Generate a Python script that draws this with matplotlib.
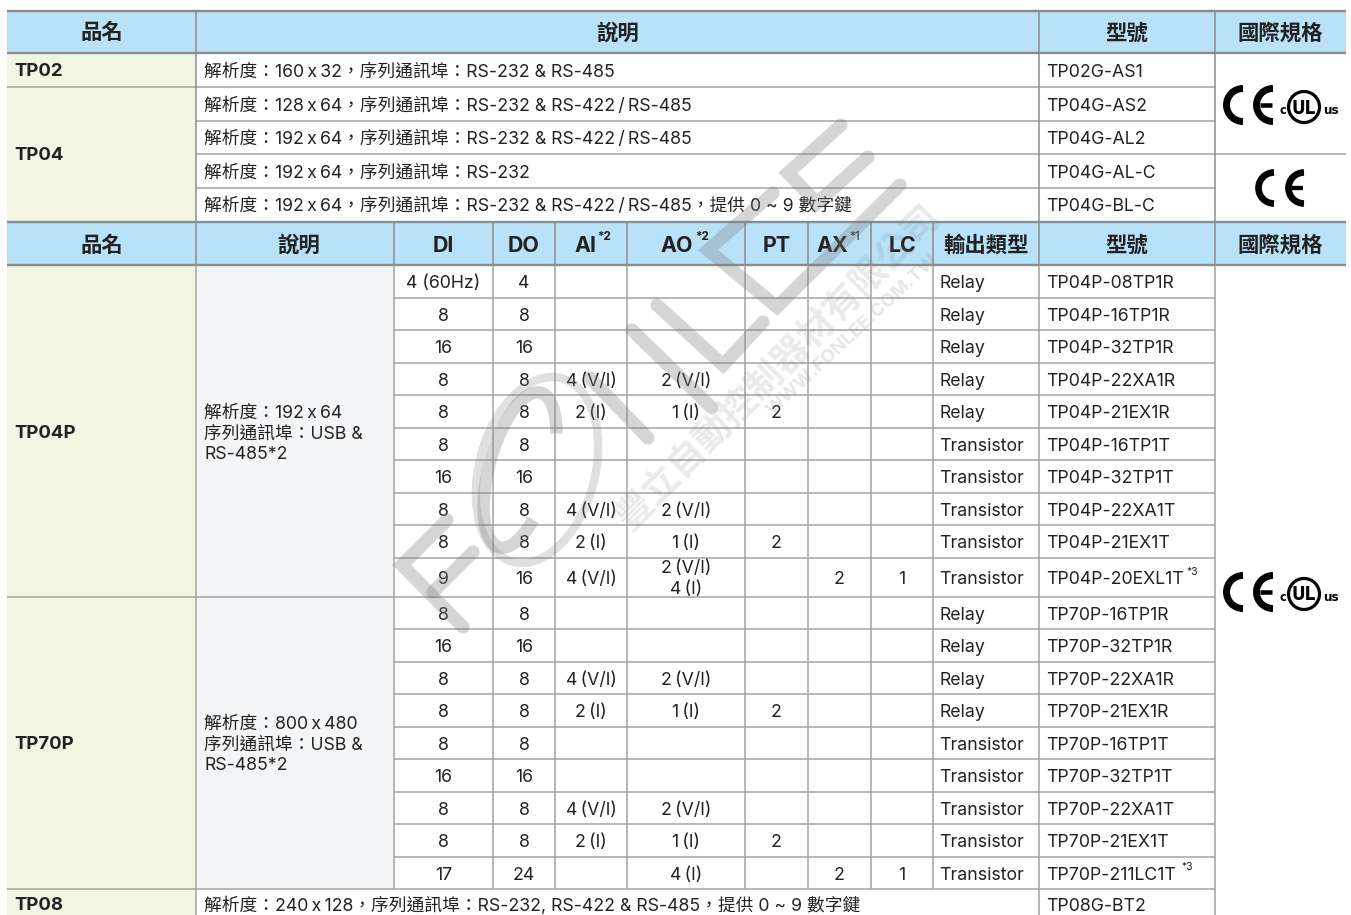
import matplotlib
matplotlib.use('Agg')
import matplotlib.pyplot as plt
from matplotlib.patches import Rectangle, Arc, Circle, Ellipse

plt.rcParams['font.family'] = ['Inter', 'Noto Sans CJK TC', 'DejaVu Sans']

# ---------- data ----------
header_top = ['品名', '說明', '型號', '國際規格']
header_sub = ['品名', '說明', 'DI', 'DO', 'AI', 'AO', 'PT', 'AX', 'LC', '輸出類型', '型號', '國際規格']
top_desc = ['解析度：160\u2009x\u200932，序列通訊埠：RS-232 & RS-485',
            '解析度：128\u2009x\u200964，序列通訊埠：RS-232 & RS-422\u2009/\u2009RS-485',
            '解析度：192\u2009x\u200964，序列通訊埠：RS-232 & RS-422\u2009/\u2009RS-485',
            '解析度：192\u2009x\u200964，序列通訊埠：RS-232',
            '解析度：192\u2009x\u200964，序列通訊埠：RS-232 & RS-422\u2009/\u2009RS-485，提供 0 ~ 9 數字鍵']
top_models = ['TP02G-AS1', 'TP04G-AS2', 'TP04G-AL2', 'TP04G-AL-C', 'TP04G-BL-C']
di = ['4 (60Hz)', '8', '16', '8', '8', '8', '16', '8', '8', '9',
      '8', '16', '8', '8', '8', '16', '8', '8', '17']
do = ['4', '8', '16', '8', '8', '8', '16', '8', '8', '16',
      '8', '16', '8', '8', '8', '16', '8', '8', '24']
VI4, I2, VI2, I1, I4 = '4\u2009(V/I)', '2\u2009(I)', '2\u2009(V/I)', '1\u2009(I)', '4\u2009(I)'
ai = ['', '', '', VI4, I2, '', '', VI4, I2, VI4,
      '', '', VI4, I2, '', '', VI4, I2, '']
ao = ['', '', '', VI2, I1, '', '', VI2, I1, (VI2, I4),
      '', '', VI2, I1, '', '', VI2, I1, I4]
pt = ['', '', '', '', '2', '', '', '', '2', '',
      '', '', '', '2', '', '', '', '2', '']
ax_io = ['', '', '', '', '', '', '', '', '', '2',
         '', '', '', '', '', '', '', '', '2']
lc = ['', '', '', '', '', '', '', '', '', '1',
      '', '', '', '', '', '', '', '', '1']
output = ['Relay'] * 5 + ['Transistor'] * 5 + ['Relay'] * 4 + ['Transistor'] * 5
models = ['TP04P-08TP1R', 'TP04P-16TP1R', 'TP04P-32TP1R', 'TP04P-22XA1R', 'TP04P-21EX1R',
          'TP04P-16TP1T', 'TP04P-32TP1T', 'TP04P-22XA1T', 'TP04P-21EX1T', 'TP04P-20EXL1T',
          'TP70P-16TP1R', 'TP70P-32TP1R', 'TP70P-22XA1R', 'TP70P-21EX1R',
          'TP70P-16TP1T', 'TP70P-32TP1T', 'TP70P-22XA1T', 'TP70P-21EX1T', 'TP70P-211LC1T']
desc_tp04p = ['解析度：192\u2009x\u200964', '序列通訊埠：USB &', 'RS-485*2']
desc_tp70p = ['解析度：800\u2009x\u2009480', '序列通訊埠：USB &', 'RS-485*2']
last_desc = '解析度：240\u2009x\u2009128，序列通訊埠：RS-232, RS-422 & RS-485，提供 0 ~ 9 數字鍵'
last_model = 'TP08G-BT2'

# ---------- layout (pixels) ----------
X = [7, 196, 394, 493, 555, 627, 745, 808, 871, 933, 1039, 1215, 1346]
Y_TOP = [53, 87, 121, 154, 188, 221]
Y_ROW = [265, 298, 330, 363, 395, 428, 460, 493, 525, 558, 597,
         629, 662, 694, 727, 759, 792, 824, 857, 889]
HDR, PROD, DESC = '#B9E1F8', '#F1F5E2', '#F4F5F7'
LINE, DARK, INK = '#A3A3A3', '#8C8C8C', '#222222'
FS, FSH, FSP = 12.75, 15.4, 13.4

fig = plt.figure(figsize=(13.51, 9.15), dpi=100, facecolor='white')
ax = fig.add_axes([0, 0, 1, 1])
ax.set_xlim(0, 1351)
ax.set_ylim(915, 0)
ax.axis('off')


def box(x0, y0, x1, y1, c):
    ax.add_patch(Rectangle((x0, y0), x1 - x0, y1 - y0, fc=c, ec='none', zorder=1))


def hl(x0, x1, y, c=LINE, lw=1.1):
    ax.plot([x0, x1], [y, y], color=c, lw=lw, solid_capstyle='butt', zorder=2)


def vl(x, y0, y1, c=LINE, lw=1.1):
    ax.plot([x, x], [y0, y1], color=c, lw=lw, solid_capstyle='butt', zorder=2)


def txt(x, y, s, size=FS, ha='left', weight='normal', color=INK, **kw):
    # y is the visual centre of the line; text is placed on its baseline
    extra = 1 if (weight == 'normal' and size == FS) else 0
    ax.text(x, y + size * 0.465 + extra, s, fontsize=size, ha=ha, va='baseline', weight=weight,
            color=color, zorder=3, **kw)


# fills
box(X[0], 11, X[12], 53, HDR)
box(X[0], 222, X[12], 265, HDR)
box(X[0], 53, X[1], 221, PROD)
box(X[0], 265, X[1], 915, PROD)
box(X[1], 265, X[2], 889, DESC)

# header 1
hx = [(X[0] + X[1]) / 2, (X[1] + X[10]) / 2, (X[10] + X[11]) / 2, (X[11] + X[12]) / 2]
for x, s in zip(hx, header_top):
    txt(x, 32, s, size=FSH, ha='center', weight='bold')

# header 2
for i, s in enumerate(header_sub):
    cx = (X[i] + X[i + 1]) / 2
    if i == 1:
        cx = 299
    if s == 'AI':
        txt(596, 244.5, s, size=FSH, ha='right', weight='bold')
        txt(597, 236, '*2', size=8.5, weight='bold')
    elif s == 'AO':
        txt(693, 244.5, s, size=FSH, ha='right', weight='bold')
        txt(695, 236, '*2', size=8.5, weight='bold')
    elif s == 'AX':
        txt(848, 244.5, s, size=FSH, ha='right', weight='bold')
        txt(849, 236, '*1', size=8.5)
    else:
        txt(cx, 244.5, s, size=FSH, ha='center', weight='bold')

# top block
for i in range(5):
    cy = (Y_TOP[i] + Y_TOP[i + 1]) / 2
    txt(204, cy, top_desc[i])
    txt(1046, cy, top_models[i])
txt(14, 70, 'TP02', size=FSP, weight='bold')
txt(14, 154, 'TP04', size=FSP, weight='bold')

# main block
columns = [di, do, ai, ao, pt, ax_io, lc]
for r in range(19):
    cy = (Y_ROW[r] + Y_ROW[r + 1]) / 2
    for c, col in enumerate(columns):
        v = col[r]
        if isinstance(v, tuple):
            txt((X[c + 2] + X[c + 3]) / 2, cy - 11, v[0], ha='center')
            txt((X[c + 2] + X[c + 3]) / 2, cy + 10, v[1], ha='center')
        elif v:
            txt((X[c + 2] + X[c + 3]) / 2, cy, v, ha='center')
    txt(939.5, cy, output[r])
    txt(1046, cy, models[r])
txt(1186, 572, '*3', size=7.5)
txt(1181, 867, '*3', size=7.5)
txt(14, 432, 'TP04P', size=FSP, weight='bold')
txt(14, 743, 'TP70P', size=FSP, weight='bold')
for dy, a, b in zip((-21, 0, 20.5), desc_tp04p, desc_tp70p):
    txt(204, 432 + dy, a)
    txt(204, 743 + dy, b)
txt(14, 904, 'TP08', size=FSP, weight='bold')
txt(204, 904, last_desc)
txt(1046, 904, last_model)

# grid lines
for y in Y_TOP[1:-1]:
    hl(X[1], X[11], y)
hl(X[0], X[1], Y_TOP[1])
hl(X[11], X[12], Y_TOP[3])
for y in Y_ROW[1:10] + Y_ROW[11:19]:
    hl(X[2], X[11], y)
hl(X[0], X[11], Y_ROW[10])
hl(X[0], X[11], Y_ROW[19])
hl(X[0], X[12], 11, DARK, 1.7)
hl(X[0], X[12], 53, DARK, 1.7)
hl(X[0], X[12], 222, DARK, 1.7)
hl(X[0], X[12], 265, DARK, 1.7)
for x in (X[1], X[10], X[11]):
    vl(x, 11, 222, DARK)
for x in X[1:12]:
    vl(x, 222, 265, DARK)
vl(X[1], 265, 915)
vl(X[2], 265, 889)
for x in X[3:10]:
    vl(x, 265, 889)
vl(X[10], 265, 915)
vl(X[11], 265, 915)


# certification marks
def ce(cx_c, cx_e, cy, r, lw):
    for xc in (cx_c, cx_e):
        ax.add_patch(Arc((xc, cy), 2 * r, 2 * r, theta1=90, theta2=270,
                         color='black', lw=lw, zorder=4))
    ax.plot([cx_e - r + 3, cx_e - 1], [cy, cy], color='black', lw=lw * 0.65,
            solid_capstyle='butt', zorder=4)


def cert(cy, ul=True):
    if ul:
        ce(1243, 1273, cy, 16.5, 5)
        ax.add_patch(Circle((1304, cy + 2), 15.5, fc='none', ec='black', lw=2.3, zorder=4))
        ax.text(1304, cy + 8.5, 'UL', fontsize=13.5, ha='center', va='baseline', weight='bold',
                color='black', family='DejaVu Sans', stretch='condensed', zorder=4)
        ax.text(1283, cy + 9, 'c', fontsize=9, ha='center', va='baseline', weight='bold',
                color='black', family='DejaVu Sans', stretch='condensed', zorder=4)
        ax.text(1331, cy + 9, 'us', fontsize=9.5, ha='center', va='baseline', weight='bold',
                color='black', family='DejaVu Sans', stretch='condensed', zorder=4)
    else:
        ce(1274, 1304, cy, 15.5, 4.8)


cert(105)
cert(188, ul=False)
cert(592)

# watermark
WM = '#7F7F7F'
WA = 0.32
strokes = [
    [(447, 520), (402, 565), (463, 627)],      # F
    [(473, 552), (433, 592)],
    [(590, 378), (648, 438)],                  # N
    [(632, 330), (712, 408)],
    [(657, 305), (723, 365), (763, 322)],      # L
    [(773, 193), (708, 250), (777, 307), (900, 185)],  # E
    [(841, 125), (788, 173), (817, 203), (868, 157)],  # E
]
for s in strokes:
    xs, ys = zip(*s)
    ax.plot(xs, ys, color=WM, alpha=WA, lw=9.5, solid_capstyle='round',
            solid_joinstyle='miter', zorder=5)
ax.add_patch(Ellipse((537, 470), 116, 190, angle=15, fc='none', ec=WM, alpha=WA * 0.75,
                     lw=6, zorder=5))
ax.add_patch(Arc((520, 470), 62, 160, angle=15, theta1=60, theta2=300, color=WM,
                 alpha=WA, lw=9, zorder=5))
ax.text(778, 367, '豐立自動控制器材有限公司', fontsize=26.5, rotation=45, rotation_mode='anchor',
        ha='center', va='center', color=WM, alpha=WA * 0.5, weight='bold', zorder=5)
ax.text(853, 335, 'WWW.FONLEE.COM.TW', fontsize=13.5, rotation=43, rotation_mode='anchor',
        ha='center', va='center', color=WM, alpha=WA * 0.6, weight='bold', zorder=5)

fig.savefig('out.png', dpi=100, facecolor='white')
